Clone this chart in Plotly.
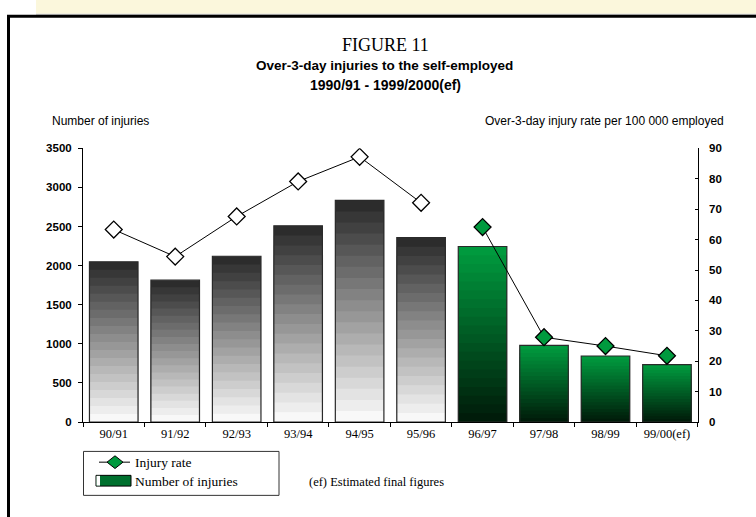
import plotly.graph_objects as go

# data
periods = ["90/91", "91/92", "92/93", "93/94", "94/95",
           "95/96", "96/97", "97/98", "98/99", "99/00(ef)"]
injuries = [2050, 1815, 2120, 2510, 2835, 2360, 2245, 980, 845, 735]
rate_old = [63.3, 54.4, 67.6, 79.1, 87.2, 72.1]      # 90/91 - 95/96
rate_new = [64.1, 27.9, 25.0, 21.8]                  # 96/97 - 99/00(ef)

W, H = 756, 517
N_OLD = len(rate_old)
N_BANDS = 20

SANS = "Liberation Sans, Arial, sans-serif"
SERIF = "Liberation Serif, Times New Roman, serif"

GREY_TOP, GREY_BOTTOM = (44, 44, 44), (248, 248, 248)
GREEN_TOP, GREEN_BOTTOM = (0, 154, 62), (0, 28, 10)


def px(x):
    return x / W


def py(y):
    return 1 - y / H


def mix(c0, c1, t):
    return "rgb({},{},{})".format(*[round(a + (b - a) * t) for a, b in zip(c0, c1)])


fig = go.Figure()

# gradient bars: nested bars drawn tallest (darkest / top colour) first
for j in reversed(range(N_BANDS)):
    t = j / (N_BANDS - 1)
    colors = [
        mix(GREY_BOTTOM, GREY_TOP, t) if i < N_OLD else mix(GREEN_BOTTOM, GREEN_TOP, t)
        for i in range(len(periods))
    ]
    fig.add_bar(
        x=periods,
        y=[v * (j + 1) / N_BANDS for v in injuries],
        marker=dict(color=colors, line=dict(width=0)),
        showlegend=False,
        hoverinfo="skip",
    )

# outline of each bar
fig.add_bar(
    x=periods,
    y=injuries,
    marker=dict(color="rgba(0,0,0,0)", line=dict(color="#2a2a2a", width=1.2)),
    showlegend=False,
    name="Number of injuries",
)

rate_line_old = rate_old + [None] * (len(periods) - N_OLD)
rate_line_new = [None] * N_OLD + rate_new

fig.add_scatter(
    x=periods, y=rate_line_old, yaxis="y2", mode="lines+markers",
    line=dict(color="black", width=1),
    marker=dict(symbol="diamond", size=13, color="white",
                line=dict(color="black", width=1.3)),
    showlegend=False, name="Injury rate",
)
fig.add_scatter(
    x=periods, y=rate_line_new, yaxis="y2", mode="lines+markers",
    line=dict(color="black", width=1),
    marker=dict(symbol="diamond", size=13, color="#009a3e",
                line=dict(color="black", width=1.3)),
    showlegend=False, name="Injury rate",
)

plot_x = [px(83), px(697.7)]
plot_y = [py(426), py(145.7)]

fig.update_layout(
    width=W,
    height=H,
    margin=dict(l=0, r=0, t=0, b=0),
    paper_bgcolor="white",
    plot_bgcolor="rgba(0,0,0,0)",
    barmode="overlay",
    bargap=0.21,
    xaxis=dict(
        domain=plot_x, type="category", range=[-0.5, 9.5],
        showline=True, linecolor="black", linewidth=1,
        ticks="outside", tickson="boundaries", ticklen=4, tickcolor="black",
        tickfont=dict(family=SERIF, size=12.5, color="black"),
        showgrid=False, zeroline=False, fixedrange=True,
    ),
    yaxis=dict(
        domain=plot_y, range=[0, 3500], dtick=500, tickformat="d",
        showline=True, linecolor="black", linewidth=1,
        ticks="outside", ticklen=4, tickcolor="black", ticklabelstandoff=4,
        tickfont=dict(family=SANS, size=11.5, color="black", weight="bold"),
        showgrid=False, zeroline=False,
    ),
    yaxis2=dict(
        overlaying="y", side="right", range=[0, 90], dtick=10,
        showline=True, linecolor="black", linewidth=1,
        ticks="inside", ticklen=3, tickcolor="black", ticklabelstandoff=8,
        tickfont=dict(family=SANS, size=11.5, color="black", weight="bold"),
        showgrid=False, zeroline=False,
    ),
    showlegend=False,
)

shapes = [
    # cream strip along the top
    dict(type="rect", xref="paper", yref="paper", x0=px(36), x1=1.02,
         y0=py(8), y1=1.02, fillcolor="#fbf7dc", line=dict(width=0), layer="below"),
    dict(type="line", xref="paper", yref="paper", x0=px(36), x1=1.02,
         y0=py(8.5), y1=py(8.5), line=dict(color="#c8c8c8", width=1)),
    # page frame
    dict(type="rect", xref="paper", yref="paper", x0=px(8.5), x1=1.05,
         y0=-0.05, y1=py(10.5), line=dict(color="black", width=3)),
    # legend box
    dict(type="rect", xref="paper", yref="paper", x0=px(83.5), x1=px(279),
         y0=py(501), y1=py(456), line=dict(color="#333", width=1), fillcolor="white"),
    dict(type="line", xref="paper", yref="paper", x0=px(99), x1=px(130),
         y0=py(467), y1=py(467), line=dict(color="black", width=1)),
    dict(type="path", xref="paper", yref="paper",
         path="M {} {} L {} {} L {} {} L {} {} Z".format(
             px(107), py(467), px(115), py(460.5), px(123), py(467), px(115), py(473.5)),
         fillcolor="#009a3e", line=dict(color="black", width=1)),
    dict(type="rect", xref="paper", yref="paper", x0=px(96), x1=px(131),
         y0=py(491.5), y1=py(480.5), fillcolor="#00702e", line=dict(color="black", width=1)),
    dict(type="rect", xref="paper", yref="paper", x0=px(96.5), x1=px(100),
         y0=py(491), y1=py(481), fillcolor="white", line=dict(width=0)),
]

annotations = [
    dict(text="FIGURE 11", x=px(385), y=py(40), font=dict(family=SERIF, size=18)),
    dict(text="<b>Over-3-day injuries to the self-employed</b>", x=px(384), y=py(61),
         font=dict(family=SANS, size=13.5)),
    dict(text="<b>1990/91 - 1999/2000(ef)</b>", x=px(385), y=py(81),
         font=dict(family=SANS, size=14)),
    dict(text="Number of injuries", x=px(50), y=py(118), xanchor="left",
         font=dict(family=SANS, size=12)),
    dict(text="Over-3-day injury rate per 100 000 employed", x=px(726), y=py(118),
         xanchor="right", font=dict(family=SANS, size=12)),
    dict(text="Injury rate", x=px(133), y=py(467), xanchor="left",
         font=dict(family=SERIF, size=13.5)),
    dict(text="Number of injuries", x=px(133), y=py(487), xanchor="left",
         font=dict(family=SERIF, size=13.5)),
    dict(text="(ef) Estimated final figures", x=px(307), y=py(487), xanchor="left",
         font=dict(family=SERIF, size=12.5)),
]
for a in annotations:
    a.setdefault("xanchor", "center")
    a.update(xref="paper", yref="paper", yanchor="middle", showarrow=False)
    a["font"]["color"] = "black"

fig.update_layout(shapes=shapes, annotations=annotations)

# the page's default 8px body margin would shift the figure
fig.write_html(
    "out.html",
    config={"displayModeBar": False},
    post_script="document.body.style.margin = '0'; document.body.style.overflow = 'hidden';",
)
